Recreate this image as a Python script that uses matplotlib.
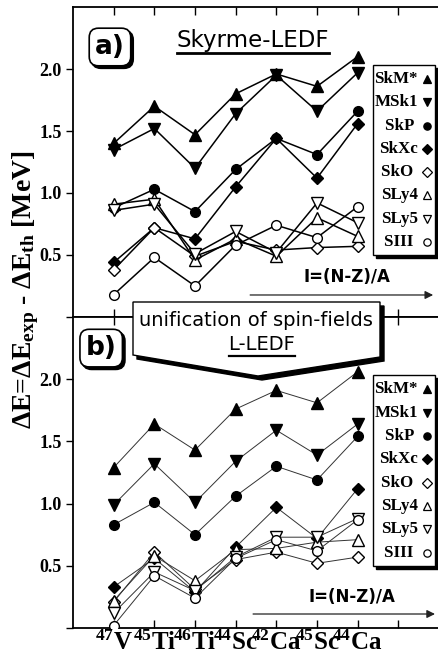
import matplotlib
matplotlib.use("Agg")
import matplotlib.pyplot as plt
from matplotlib.patches import Polygon, Rectangle
from matplotlib.transforms import offset_copy

plt.rcParams["mathtext.fontset"] = "custom"
plt.rcParams["mathtext.rm"] = "Liberation Serif:bold"
plt.rcParams["mathtext.bf"] = "Liberation Serif:bold"
plt.rcParams["mathtext.it"] = "Liberation Serif:bold"

SERIF = "Liberation Serif"
SANS = "DejaVu Sans"

# nuclei on the x axis
mass_numbers = ["47", "45", "46", "44", "42", "45", "44"]
elements = ["V", "Ti", "Ti", "Sc", "Ca", "Sc", "Ca"]

forces = ["SkM*", "MSk1", "SkP", "SkXc", "SkO", "SLy4", "SLy5", "SIII"]
legend_gap = ["", "", " ", "", " ", "", "", " "]

# panel a) Skyrme-LEDF
skm_a = [1.40, 1.70, 1.47, 1.80, 1.96, 1.86, 2.10]
msk1_a = [1.35, 1.52, 1.20, 1.64, 1.95, 1.66, 1.97]
skp_a = [0.88, 1.03, 0.85, 1.19, 1.44, 1.31, 1.66]
skxc_a = [0.44, 0.72, 0.63, 1.05, 1.44, 1.12, 1.56]
sko_a = [0.38, 0.72, 0.49, 0.61, 0.54, 0.56, 0.57]
sly4_a = [0.91, 0.95, 0.46, 0.63, 0.49, 0.80, 0.65]
sly5_a = [0.86, 0.91, 0.51, 0.69, 0.52, 0.92, 0.76]
siii_a = [0.18, 0.48, 0.25, 0.58, 0.74, 0.64, 0.89]

# panel b) L-LEDF
skm_b = [1.29, 1.64, 1.43, 1.76, 1.91, 1.81, 2.06]
msk1_b = [0.99, 1.32, 1.01, 1.34, 1.59, 1.39, 1.64]
skp_b = [0.83, 1.01, 0.75, 1.06, 1.30, 1.19, 1.54]
skxc_b = [0.33, 0.56, 0.29, 0.65, 0.97, 0.72, 1.12]
sko_b = [0.21, 0.61, 0.31, 0.55, 0.61, 0.52, 0.57]
sly4_b = [0.22, 0.58, 0.38, 0.63, 0.64, 0.69, 0.71]
sly5_b = [0.12, 0.45, 0.30, 0.57, 0.73, 0.73, 0.88]
siii_b = [0.02, 0.42, 0.24, 0.56, 0.71, 0.62, 0.87]

panel_a = [skm_a, msk1_a, skp_a, skxc_a, sko_a, sly4_a, sly5_a, siii_a]
panel_b = [skm_b, msk1_b, skp_b, skxc_b, sko_b, sly4_b, sly5_b, siii_b]

styles = [
    dict(marker="^", ms=8.5, mfc="black"),
    dict(marker="v", ms=8.5, mfc="black"),
    dict(marker="o", ms=7, mfc="black"),
    dict(marker="D", ms=6.5, mfc="black"),
    dict(marker="D", ms=6.5, mfc="white"),
    dict(marker="^", ms=8.5, mfc="white"),
    dict(marker="v", ms=8.5, mfc="white"),
    dict(marker="o", ms=7, mfc="white"),
]

W, H = 438, 658
fig = plt.figure(figsize=(W / 100, H / 100), dpi=100)


def fx(px):
    return px / W


def fy(py):
    return 1 - py / H


ax_a = fig.add_axes([fx(73), fy(317), fx(366), 310 / H])
ax_b = fig.add_axes([fx(73), fy(628), fx(366), 311 / H])

x = list(range(1, len(elements) + 1))
xlabels = ["$^{%s}$%s" % (m, e) for m, e in zip(mass_numbers, elements)]

for ax, data, lw, lc in [(ax_a, panel_a, 1.1, "black"), (ax_b, panel_b, 0.7, "#333333")]:
    for vals, st in zip(data, styles):
        ax.plot(x, vals, color=lc, lw=lw, marker=st["marker"], ms=st["ms"],
                mfc=st["mfc"], mec="black", mew=1.0, zorder=3)
    ax.set_xlim(0, 9)
    ax.set_ylim(0, 2.5)
    ax.set_xticks(range(1, 9))
    ax.set_yticks([0, 0.5, 1.0, 1.5, 2.0])
    ax.set_yticklabels(["", "0.5", "1.0", "1.5", "2.0"], fontfamily=SERIF,
                       fontweight="bold", fontsize=13)
    ax.tick_params(axis="x", direction="in", top=True, bottom=True, length=6, width=1)
    ax.tick_params(axis="y", direction="out", length=5, width=1, pad=3)
    for sp in ax.spines.values():
        sp.set_linewidth(1.3)

    # legend box with shadow
    lt, lb, ll, lr = 0.813, 0.200, 0.820, 0.989
    shadow = Rectangle((ll, lb), lr - ll, lt - lb, transform=offset_copy(
        ax.transAxes, fig=fig, x=3, y=-3, units="dots"), fc="black", ec="black",
        zorder=5, clip_on=False)
    box = Rectangle((ll, lb), lr - ll, lt - lb, transform=ax.transAxes, fc="white",
                    ec="black", lw=1.0, zorder=6, clip_on=False)
    ax.add_patch(shadow)
    ax.add_patch(box)
    for i, (name, gap, st) in enumerate(zip(forces, legend_gap, styles)):
        yy = 0.768 - i * 0.0752
        ax.text(0.942, yy, name + gap, transform=ax.transAxes, ha="right", va="center",
                fontfamily=SERIF, fontweight="bold", fontsize=12.2, zorder=7)
        ax.plot([0.968], [yy], transform=ax.transAxes, marker=st["marker"],
                ms=st["ms"] * 0.75, mfc=st["mfc"], mec="black", mew=0.9,
                ls="none", zorder=7, clip_on=False)

ax_a.tick_params(axis="x", labelbottom=False)
ax_b.set_xticks(x)
ax_b.set_xticklabels(xlabels, fontfamily=SERIF, fontweight="bold", fontsize=18)
ax_b.tick_params(axis="x", pad=2)
ax_b.set_xticks([8], minor=True)
ax_b.tick_params(axis="x", which="minor", direction="in", top=True, bottom=True,
                 length=6, width=1)


def tag(ax, xx, yy, s):
    kw = dict(fontsize=19, fontweight="bold", fontfamily=SANS, ha="center", va="center")
    ax.text(xx, yy, s, transform=offset_copy(ax.transAxes, fig=fig, x=2.5, y=-2.5,
                                             units="dots"),
            color="black", zorder=8,
            bbox=dict(boxstyle="round,pad=0.22,rounding_size=0.35", fc="black",
                      ec="black", lw=1.2), **kw)
    ax.text(xx, yy, s, transform=ax.transAxes, zorder=9,
            bbox=dict(boxstyle="round,pad=0.22,rounding_size=0.35", fc="white",
                      ec="black", lw=1.2), **kw)


tag(ax_a, 0.101, 0.871, "a)")
tag(ax_b, 0.077, 0.900, "b)")

# isospin arrows
for ax, (ty, ay, ax0, ax1, tx) in [(ax_a, (0.129, 0.071, 0.484, 0.984, 0.749)),
                                   (ax_b, (0.100, 0.045, 0.492, 0.989, 0.762))]:
    ax.text(tx, ty, "I=(N-Z)/A", transform=ax.transAxes, ha="center", va="center",
            fontfamily=SANS, fontweight="bold", fontsize=12, zorder=4)
    ax.annotate("", xy=(ax1, ay), xytext=(ax0, ay), xycoords="axes fraction",
                arrowprops=dict(arrowstyle="-|>", lw=0.9, color="#222222",
                                mutation_scale=12, shrinkA=0, shrinkB=0))

title_a = ax_a.text(0.492, 0.892, "Skyrme-LEDF", transform=ax_a.transAxes,
                    ha="center", va="center", fontfamily=SANS, fontsize=16.5, zorder=4)

# callout box between panels
pent = [(133, 302), (380, 302), (380, 357), (258, 376), (133, 355)]
pent_shadow = [(px + 4, py + 4) for px, py in pent]
fig.add_artist(Polygon([(fx(a), fy(b)) for a, b in pent_shadow], closed=True,
                       transform=fig.transFigure, fc="black", ec="black", zorder=10))
fig.add_artist(Polygon([(fx(a), fy(b)) for a, b in pent], closed=True,
                       transform=fig.transFigure, fc="white", ec="black", lw=1.0,
                       zorder=11))
fig.text(fx(256), fy(320), "unification of spin-fields", ha="center", va="center",
         fontfamily=SANS, fontsize=14, zorder=12)
title_b = fig.text(fx(262), fy(345), "L-LEDF", ha="center", va="center",
                   fontfamily=SANS, fontsize=14, zorder=12)

fig.text(fx(26), fy(290), r"ΔE=ΔE$_{\mathrm{exp}}$ - ΔE$_{\mathrm{th}}$ [MeV]",
         rotation=90, ha="center", va="center", fontfamily=SERIF,
         fontweight="bold", fontsize=20)

# underlines
fig.canvas.draw()
renderer = fig.canvas.get_renderer()
for t, lw in [(title_a, 2.0), (title_b, 1.6)]:
    bb = t.get_window_extent(renderer)
    fig.add_artist(plt.Line2D([bb.x0 / W, bb.x1 / W], [(bb.y0 - 1) / H] * 2,
                              transform=fig.transFigure, color="black", lw=lw,
                              zorder=12))

fig.savefig("out.png", dpi=100)
